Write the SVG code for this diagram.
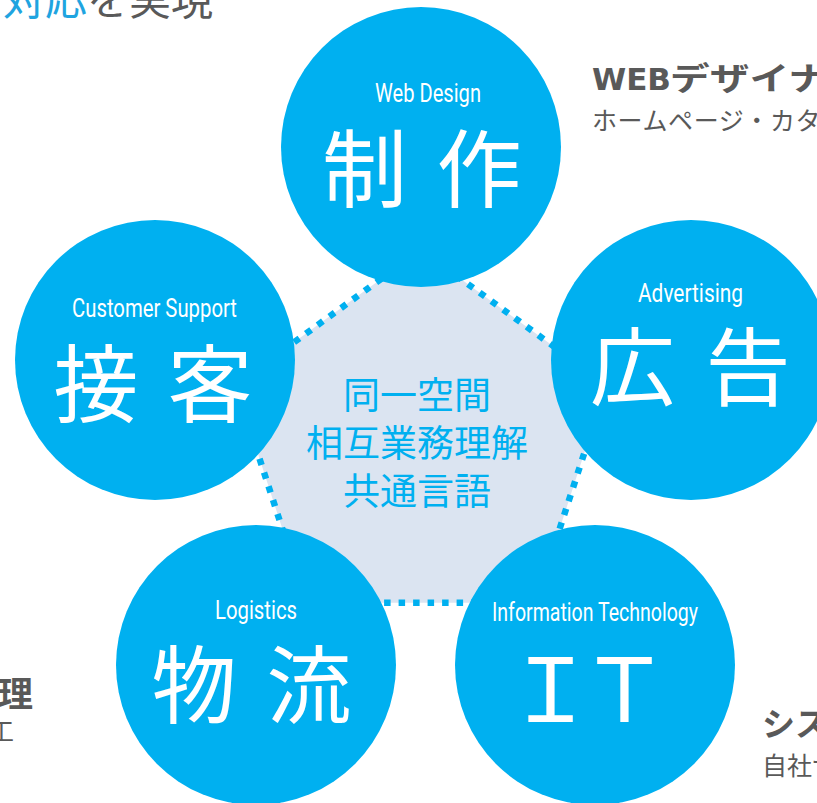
<svg xmlns="http://www.w3.org/2000/svg" width="817" height="803" viewBox="0 0 817 803">
<style>
.circle{fill:#00b0f0}
.en{font-family:Roboto,"Liberation Sans",sans-serif;font-size:25px;fill:#ffffff;text-anchor:middle}
.big{font-family:"Noto Sans CJK JP",sans-serif;font-size:85px;fill:#ffffff;text-anchor:middle}
.mid{font-family:"Noto Sans CJK JP",sans-serif;font-size:37px;fill:#00b0f0;text-anchor:middle}
.dot{stroke:#00b0f0;stroke-width:6.5;stroke-dasharray:6.5 8;fill:none}
.title{font-family:"DejaVu Sans","Noto Sans CJK JP",sans-serif;font-weight:700;font-size:31px;fill:#595959}
.sub{font-family:"Noto Sans CJK JP",sans-serif;font-size:25px;fill:#595959}
.head{font-family:"Noto Sans CJK JP",sans-serif;font-size:42px;fill:#595959}
</style>
<rect width="817" height="803" fill="#ffffff"/>

<g id="heading">
  <text class="head" x="3" y="15"><tspan fill="#1fa4e0">対応</tspan>を実現</text>
</g>

<g id="side-texts">
  <text class="title" x="592" y="90">WEB<tspan x="670" style="font-size:32px" textLength="158" lengthAdjust="spacingAndGlyphs">デザイナ</tspan></text>
  <text class="sub" x="592" y="130" style="letter-spacing:0.6px">ホームページ・カタ</text>
  <text class="title" x="33" y="707" text-anchor="end" style="font-size:35px">理</text>
  <text class="sub" x="-11" y="741">工</text>
  <text class="title" x="762" y="736" style="font-size:33px">シス</text>
  <text class="sub" x="762" y="775">自社サ</text>
</g>

<g id="center">
  <polygon points="421,250 606.5,384.7 535.6,602.8 306.4,602.8 235.5,384.7" fill="#dbe4f1"/>
</g>

<g id="connectors">
  <line class="dot" x1="421" y1="250" x2="606.5" y2="384.7"/>
  <line class="dot" x1="606.5" y1="384.7" x2="535.6" y2="602.8"/>
  <line class="dot" x1="535.6" y1="602.8" x2="306.4" y2="602.8"/>
  <line class="dot" x1="306.4" y1="602.8" x2="235.5" y2="384.7"/>
  <line class="dot" x1="235.5" y1="384.7" x2="421" y2="250"/>
</g>

<g id="center-text">
  <text class="mid" x="417" y="409">同一空間</text>
  <text class="mid" x="417" y="457">相互業務理解</text>
  <text class="mid" x="417" y="505">共通言語</text>
</g>

<g id="node-web-design">
  <circle class="circle" cx="421" cy="147" r="140"/>
  <text class="en" x="428" y="102" textLength="106" lengthAdjust="spacingAndGlyphs">Web Design</text>
  <text class="big" x="364.5" y="201">制</text>
  <text class="big" x="479" y="201">作</text>
</g>

<g id="node-customer-support">
  <circle class="circle" cx="155" cy="360" r="140"/>
  <text class="en" x="154.5" y="317" textLength="165" lengthAdjust="spacingAndGlyphs">Customer Support</text>
  <text class="big" x="96" y="416">接</text>
  <text class="big" x="210" y="416">客</text>
</g>

<g id="node-advertising">
  <circle class="circle" cx="691" cy="360" r="140"/>
  <text class="en" x="690.5" y="302" textLength="105" lengthAdjust="spacingAndGlyphs">Advertising</text>
  <text class="big" x="632.5" y="399">広</text>
  <text class="big" x="748" y="399">告</text>
</g>

<g id="node-logistics">
  <circle class="circle" cx="256" cy="665" r="140"/>
  <text class="en" x="256" y="619" textLength="82" lengthAdjust="spacingAndGlyphs">Logistics</text>
  <text class="big" x="194" y="717">物</text>
  <text class="big" x="309" y="717">流</text>
</g>

<g id="node-it">
  <circle class="circle" cx="595" cy="665" r="140"/>
  <text class="en" x="595" y="621" textLength="206" lengthAdjust="spacingAndGlyphs">Information Technology</text>
  <text class="big" x="550.5" y="722" style="font-size:88px">Ｉ</text>
  <text class="big" x="624.5" y="722" style="font-size:88px">Ｔ</text>
</g>
</svg>
